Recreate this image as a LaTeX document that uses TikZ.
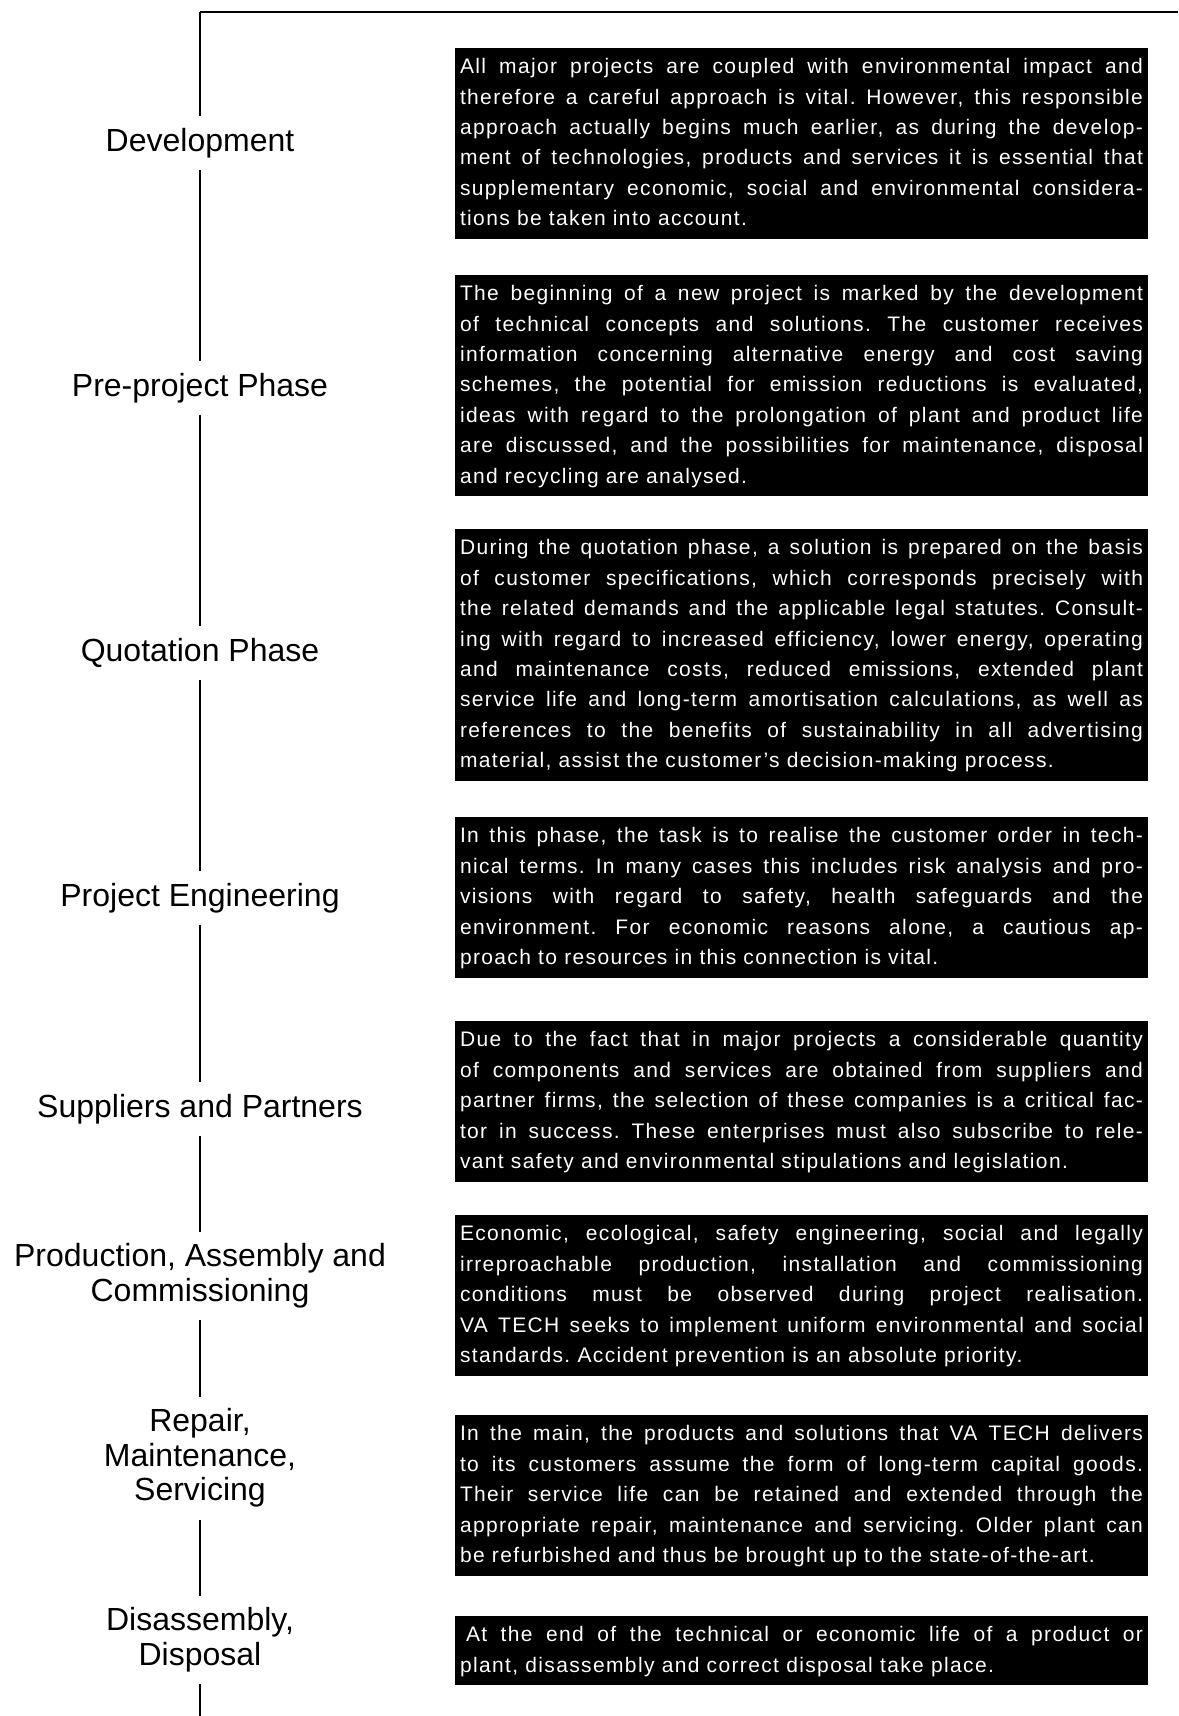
\documentclass[tikz,border=0pt]{standalone}
\usepackage{fontspec}
\setmainfont{Liberation Sans}
\newfontfamily\stagefont{Liberation Sans}
\newfontfamily\notefont[LetterSpace=6.5]{Liberation Sans}
\newcommand\notetop{\rule{0pt}{12.9pt}}
\newcommand\notebot{\rule[-6.6pt]{0pt}{6.6pt}}
\hyphenpenalty=10000
\tolerance=9999
\frenchspacing
\tikzset{
  stage/.style={font={\stagefont\fontsize{16}{17.3}\selectfont}, align=center,
    inner xsep=0pt, inner ysep=6pt, outer sep=0pt},
  note/.style={anchor=north west, fill=black, text=white, text width=341.5pt,
    inner xsep=2.5pt, inner ysep=0pt, outer sep=0pt, align=justify,
    font={\notefont\fontsize{10.5}{15.2}\selectfont\frenchspacing},
    execute at begin node=\notetop, execute at end node=\notebot},
  spine/.style={line width=0.7pt},
  topline/.style={line width=0.9pt}
}

\begin{document}
\begin{tikzpicture}[x=0.5pt, y=-0.5pt]
\useasboundingbox (0,0) rectangle (1178,1716);
\coordinate (corner) at (200,12);
\coordinate (topend) at (1178,12);
\coordinate (foot) at (200,1716);

\node[stage] (dev) at (200,143) {Development};
\node[stage] (pre) at (200,388) {Pre-project Phase};
\node[stage] (quo) at (200,653) {Quotation Phase};
\node[stage] (eng) at (200,898) {Project Engineering};
\node[stage] (sup) at (200,1109) {Suppliers and Partners};
\node[stage] (pro) at (200,1276) {Production, Assembly and\\Commissioning};
\node[stage] (rep) at (200,1458) {Repair,\\Maintenance,\\Servicing};
\node[stage] (dis) at (200,1640) {Disassembly,\\Disposal};

\draw[topline] (topend) -- (corner);
\draw[spine] (corner) -- (dev.north);
\foreach \a/\b in {dev/pre, pre/quo, quo/eng, eng/sup, sup/pro, pro/rep, rep/dis}
  \draw[spine] (\a.south) -- (\b.north);
\draw[spine] (dis.south) -- (foot);

\node[note] (n1) at (455,48) {All major projects are coupled with environmental impact and\linebreak
therefore a careful approach is vital. However, this responsible\linebreak
approach actually begins much earlier, as during the develop-\linebreak
ment of technologies, products and services it is essential that\linebreak
supplementary economic, social and environmental considera-\linebreak
tions be taken into account.};
\node[note] (n2) at (455,275) {The beginning of a new project is marked by the development\linebreak
of technical concepts and solutions. The customer receives\linebreak
information concerning alternative energy and cost saving\linebreak
schemes, the potential for emission reductions is evaluated,\linebreak
ideas with regard to the prolongation of plant and product life\linebreak
are discussed, and the possibilities for maintenance, disposal\linebreak
and recycling are analysed.};
\node[note] (n3) at (455,529) {During the quotation phase, a solution is prepared on the basis\linebreak
of customer specifications, which corresponds precisely with\linebreak
the related demands and the applicable legal statutes. Consult-\linebreak
ing with regard to increased efficiency, lower energy, operating\linebreak
and maintenance costs, reduced emissions, extended plant\linebreak
service life and long-term amortisation calculations, as well as\linebreak
references to the benefits of sustainability in all advertising\linebreak
material, assist the customer’s decision-making process.};
\node[note] (n4) at (455,817) {In this phase, the task is to realise the customer order in tech-\linebreak
nical terms. In many cases this includes risk analysis and pro-\linebreak
visions with regard to safety, health safeguards and the\linebreak
environment. For economic reasons alone, a cautious ap-\linebreak
proach to resources in this connection is vital.};
\node[note] (n5) at (455,1021) {Due to the fact that in major projects a considerable quantity\linebreak
of components and services are obtained from suppliers and\linebreak
partner firms, the selection of these companies is a critical fac-\linebreak
tor in success. These enterprises must also subscribe to rele-\linebreak
vant safety and environmental stipulations and legislation.};
\node[note] (n6) at (455,1215) {Economic, ecological, safety engineering, social and legally\linebreak
irreproachable production, installation and commissioning\linebreak
conditions must be observed during project realisation.\linebreak
VA TECH seeks to implement uniform environmental and social\linebreak
standards. Accident prevention is an absolute priority.};
\node[note] (n7) at (455,1415) {In the main, the products and solutions that VA TECH delivers\linebreak
to its customers assume the form of long-term capital goods.\linebreak
Their service life can be retained and extended through the\linebreak
appropriate repair, maintenance and servicing. Older plant can\linebreak
be refurbished and thus be brought up to the state-of-the-art.};
\node[note] (n8) at (455,1616) {\hspace*{3pt}At the end of the technical or economic life of a product or\linebreak
plant, disassembly and correct disposal take place.};
\end{tikzpicture}
\end{document}
